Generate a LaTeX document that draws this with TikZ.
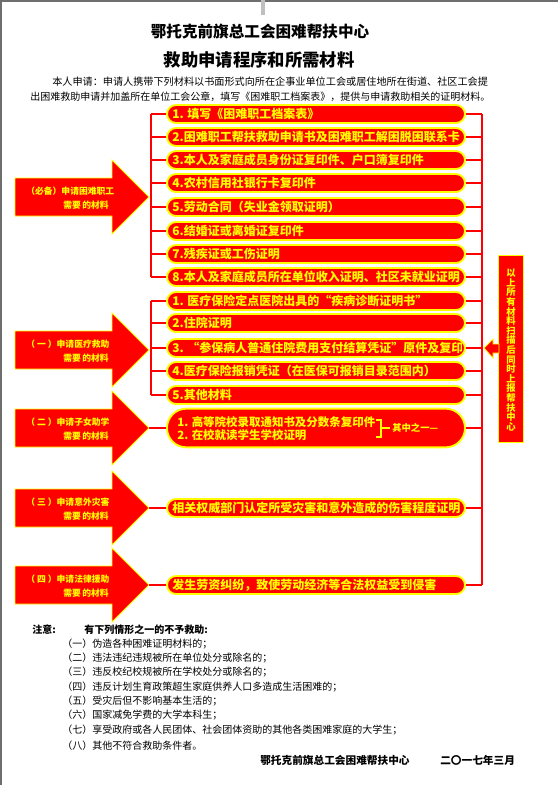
\documentclass[tikz,border=0pt]{standalone}
\usepackage{fontspec}
\setmainfont{Noto Sans CJK SC}
\usetikzlibrary{shapes.misc}
\definecolor{rd}{RGB}{255,0,0}
\definecolor{yl}{RGB}{255,255,0}
\definecolor{framegray}{RGB}{110,110,110}
\newcommand\myfs[1]{\fontsize{#1}{#1}\selectfont}
\newcommand\pillrow[3]{%
  \node[pill] (#1) at (316,#2) {};
  \node[btxt] (#1t) at (172,#2) {#3};}
\newcommand\redarrow[4]{%
  \fill[rd, draw=yl, line width=0.6pt] (15,#2-19) -- (112,#2-19) -- (112,#2-37) -- (149,#2) -- (112,#2+37) -- (112,#2+19) -- (15,#2+19) -- cycle;
  \coordinate (#1) at (149,#2);
  \node[atxt] (#1a) at (26,#2-6) {#3};
  \node[atxt] (#1b) at (63,#2+8) {#4};}
\begin{document}
\begin{tikzpicture}[x=0.75pt,y=-0.75pt,
  pill/.style={rounded rectangle, fill=rd, draw=yl, line width=1.4pt, minimum width=223.5pt, minimum height=13.5pt, inner sep=0pt},
  btxt/.style={anchor=west, text=yl, font=\myfs{9pt}\bfseries, inner sep=0pt},
  atxt/.style={anchor=west, text=yl, font=\myfs{6.6pt}\bfseries, inner sep=0pt},
  link/.style={draw=rd, line width=1.6pt},
  note/.style={anchor=west, font=\myfs{7.5pt}, inner sep=0pt},
  ]
\useasboundingbox (0,0) rectangle (558,785);
\fill[white] (0,0) rectangle (558,785);
\fill[framegray] (0,0) rectangle (2,785);
\fill[framegray] (0,0) rectangle (558,2);
\fill[black!25] (261,0) rectangle (265,15);

% titles
\node[font=\myfs{11.7pt}\bfseries] (title1) at (260,32) {鄂托克前旗总工会困难帮扶中心};
\node[font=\myfs{13pt}\bfseries] (title2) at (259,60) {救助申请程序和所需材料};
\node[note, font=\myfs{7.6pt}] (intro1) at (52,82) {本人申请：申请人携带下列材料以书面形式向所在企事业单位工会或居住地所在街道、社区工会提};
\node[note, font=\myfs{7.5pt}] (intro2) at (30,97) {出困难救助申请并加盖所在单位工会公章，填写《困难职工档案表》，提供与申请救助相关的证明材料。};

% group 1
\pillrow{b1}{114}{1. 填写《困难职工档案表》}
\pillrow{b2}{137}{2.困难职工帮扶救助申请书及困难职工解困脱困联系卡}
\pillrow{b3}{160}{3.本人及家庭成员身份证复印件、户口簿复印件}
\pillrow{b4}{183}{4.农村信用社银行卡复印件}
\pillrow{b5}{207}{5.劳动合同（失业金领取证明）}
\pillrow{b6}{231}{6.结婚证或离婚证复印件}
\pillrow{b7}{254}{7.残疾证或工伤证明}
\pillrow{b8}{277}{8.本人及家庭成员所在单位收入证明、社区未就业证明}

% group 2
\pillrow{m1}{301}{1. 医疗保险定点医院出具的“疾病诊断证明书”}
\pillrow{m2}{323}{2.住院证明}
\node[pill] (m3) at (316,348) {};
\begin{scope}
  \clip (168,336) rectangle (461,360);
  \node[btxt] (m3t) at (172,348) {3. “参保病人普通住院费用支付结算凭证”原件及复印件};
\end{scope}
\pillrow{m4}{371}{4.医疗保险报销凭证（在医保可报销目录范围内）}
\pillrow{m5}{395}{5.其他材料}

% study box
\node[pill, minimum height=29pt] (s1) at (316,428) {};
\node[btxt, font=\myfs{8.6pt}\bfseries] (s1a) at (177,422) {1. 高等院校录取通知书及分数条复印件};
\node[btxt, font=\myfs{8.6pt}\bfseries] (s1b) at (177,435) {2. 在校就读学生学校证明};
\draw[yl, line width=0.8pt] (376,420) -- (381,420) -- (381,428) -- (390,428);
\draw[yl, line width=0.8pt] (381,428) -- (381,437) -- (376,437);
\node[btxt, font=\myfs{7pt}\bfseries] (s1c) at (392,428) {其中之一—};

% disaster and legal boxes
\pillrow{y1}{508}{相关权威部门认定所受灾害和意外造成的伤害程度证明}
\pillrow{l1}{585}{发生劳资纠纷，致使劳动经济等合法权益受到侵害}

% left arrows
\redarrow{A1}{197}{（必备）申请困难职工}{需要\,的材料}
\redarrow{A2}{350}{（ 一 ）申请医疗救助}{需要\,的材料}
\redarrow{A3}{428}{（ 二 ）申请子女助学}{需要\,的材料}
\redarrow{A4}{508}{（ 三 ）申请意外灾害}{需要\,的材料}
\redarrow{A5}{585}{（ 四 ）申请法律援助}{需要\,的材料}

% left brackets
\coordinate (L1top) at (151,114);
\coordinate (L1bot) at (151,277);
\coordinate (L2top) at (151,301);
\coordinate (L2bot) at (151,395);
\draw[link] (L1top) -- (L1bot);
\draw[link] (L2top) -- (L2bot);
\foreach \n in {b1,b2,b3,b4,b5,b6,b7,b8}{\draw[link] (\n.west -| L1top) -- (\n.west);}
\foreach \n in {m1,m2,m3,m4,m5}{\draw[link] (\n.west -| L2top) -- (\n.west);}
\draw[link] (A3) -- (s1.west);
\draw[link] (A4) -- (y1.west);
\draw[link] (A5) -- (l1.west);

% right bracket
\coordinate (Rtop) at (482,114);
\coordinate (Rbot) at (482,585);
\draw[link] (Rtop) -- (Rbot);
\foreach \n in {b1,b2,b3,b4,b5,b6,b7,b8,m1,m2,m3,m4,m5,s1,y1,l1}{\draw[link] (\n.east) -- (\n.east -| Rtop);}

% side box
\node[fill=rd, draw=yl, line width=0.8pt, minimum width=19pt, minimum height=140pt, inner sep=0pt] (side) at (511,349) {};
\fill[rd, draw=yl, line width=0.6pt] (484,348) -- (493,339) -- (493,344) -- (499,344) -- (499,353) -- (493,353) -- (493,358) -- cycle;
\coordinate (sidetip) at (484,348);
\node[text=yl, font=\fontsize{7pt}{7.2pt}\selectfont\bfseries, align=center, inner sep=0pt] (sidetxt) at (511,350)
 {以\\上\\所\\有\\材\\料\\扫\\描\\后\\同\\时\\上\\报\\帮\\扶\\中\\心};

% notes
\node[note, font=\myfs{7.5pt}\bfseries] (n0) at (32,630) {注意:};
\node[note, font=\myfs{7.5pt}\bfseries] (n00) at (84,630) {有下列情形之一的不予救助:};
\node[note] (n1) at (62,644) {（一）伪造各种困难证明材料的；};
\node[note] (n2) at (62,658) {（二）违法违纪违规被所在单位处分或除名的；};
\node[note] (n3) at (62,672) {（三）违反校纪校规被所在学校处分或除名的；};
\node[note] (n4) at (62,687) {（四）违反计划生育政策超生家庭供养人口多造成生活困难的；};
\node[note] (n5) at (62,701) {（五）受灾后但不影响基本生活的；};
\node[note] (n6) at (62,715) {（六）国家减免学费的大学本科生；};
\node[note] (n7) at (62,730) {（七）享受政府或各人民团体、社会团体资助的其他各类困难家庭的大学生；};
\node[note] (n8) at (62,746) {（八）其他不符合救助条件者。};
\node[note, font=\myfs{8pt}\bfseries] (sig1) at (260,760) {鄂托克前旗总工会困难帮扶中心};
\node[note, font=\myfs{8pt}\bfseries] (sig2) at (440,760) {二〇一七年三月};
\end{tikzpicture}
\end{document}
